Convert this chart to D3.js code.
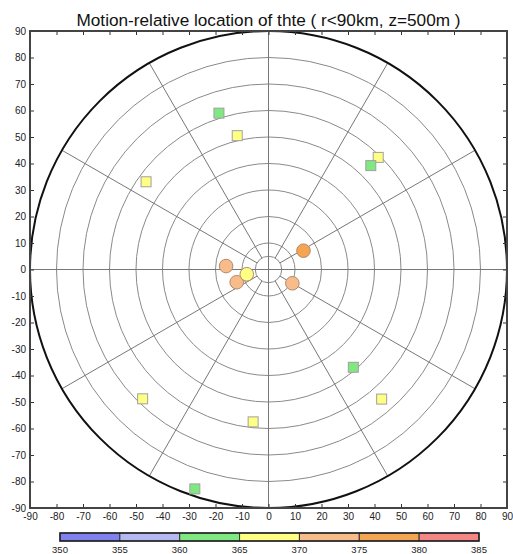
<!DOCTYPE html>
<html><head><meta charset="utf-8">
<script src="https://cdn.jsdelivr.net/npm/d3@7"></script>
<style>body{margin:0;background:#fff}svg{display:block}</style>
</head><body>
<svg id="c" width="513" height="554"></svg>
<script>
// ---- data ----
const title = "Motion-relative location of thte ( r<90km, z=500m )";
const axisTicks = d3.range(-90, 91, 10);
const ringRadii = [5, 10, 20, 30, 40, 50, 60, 70, 80];
const spokeAngles = d3.range(0, 360, 30);
const colorBreaks = [350, 355, 360, 365, 370, 375, 380, 385];
const colorFills = ["#8080ee", "#b5b9f2", "#80e880", "#ffff84", "#f8bb8a", "#f5a452", "#f48686"];
// squares
const sqX = [-18.7, -11.8, -46.2, 41.4, 38.6, 32.0, 42.7, -47.5, -5.8, -27.8];
const sqY = [59.0, 50.5, 33.1, 42.3, 39.2, -36.9, -48.9, -48.8, -57.5, -82.8];
const sqV = [362, 367, 367, 367, 362, 362, 367, 367, 367, 362];
// circles
const ciX = [13.2, -16.0, 9.0, -12.0, -8.2];
const ciY = [7.1, 1.3, -5.2, -4.8, -1.8];
const ciV = [377, 372, 372, 372, 367];

// ---- layout ----
const svg = d3.select("#c");
const L = 30, R = 507, T = 31, B = 508;
const x = d3.scaleLinear().domain([-90, 90]).range([L, R]);
const y = d3.scaleLinear().domain([-90, 90]).range([B, T]);
const rs = d3.scaleLinear().domain([0, 90]).range([0, (R - L) / 2]);
const cx = x(0), cy = y(0);
const color = d3.scaleThreshold().domain(colorBreaks.slice(1, -1)).range(colorFills);
const font = "'Liberation Sans', Arial, sans-serif";

svg.append("text").attr("x", (L + R) / 2).attr("y", 26).attr("text-anchor", "middle")
  .attr("font-family", font).attr("font-size", 17.2).attr("fill", "#111").text(title);

const g = svg.append("g");
// rings
g.selectAll("circle.ring").data(ringRadii).join("circle")
  .attr("cx", cx).attr("cy", cy).attr("r", d => rs(d))
  .attr("fill", "none").attr("stroke", "#8a8a8a").attr("stroke-width", 1);
// spokes
g.selectAll("line.spoke").data(spokeAngles.filter(a => a % 90 !== 0)).join("line")
  .attr("x1", a => cx + rs(5) * Math.cos(a * Math.PI / 180))
  .attr("y1", a => cy - rs(5) * Math.sin(a * Math.PI / 180))
  .attr("x2", a => cx + rs(90) * Math.cos(a * Math.PI / 180))
  .attr("y2", a => cy - rs(90) * Math.sin(a * Math.PI / 180))
  .attr("stroke", "#777").attr("stroke-width", 1);
// cross
g.append("line").attr("x1", L).attr("x2", R).attr("y1", cy).attr("y2", cy).attr("stroke", "#777");
g.append("line").attr("x1", cx).attr("x2", cx).attr("y1", T).attr("y2", B).attr("stroke", "#777");
// outer circle
g.append("circle").attr("cx", cx).attr("cy", cy).attr("r", rs(90))
  .attr("fill", "none").attr("stroke", "#111").attr("stroke-width", 2);

// axes
const fmt = d => String(d);
const axB = d3.axisBottom(x).tickValues(axisTicks).tickSize(-4).tickPadding(5).tickFormat(fmt);
const axL = d3.axisLeft(y).tickValues(axisTicks).tickSize(-4).tickPadding(4).tickFormat(fmt);
const axT = d3.axisTop(x).tickValues(axisTicks).tickSize(-4).tickFormat("");
const axR = d3.axisRight(y).tickValues(axisTicks).tickSize(-4).tickFormat("");
[[axB, `translate(0,${B})`], [axL, `translate(${L},0)`], [axT, `translate(0,${T})`], [axR, `translate(${R},0)`]]
  .forEach(([ax, tr]) => {
    const a = svg.append("g").attr("transform", tr).call(ax);
    a.select(".domain").remove();
    a.selectAll("line").attr("stroke", "#333");
    a.selectAll("text").attr("font-family", font).attr("font-size", 10).attr("fill", "#222");
  });
svg.append("rect").attr("x", L).attr("y", T).attr("width", R - L).attr("height", B - T)
  .attr("fill", "none").attr("stroke", "#444").attr("stroke-width", 2);

// markers: squares
const sqData = sqX.map((d, i) => ({x: d, y: sqY[i], v: sqV[i]}));
svg.append("g").selectAll("rect").data(sqData).join("rect")
  .attr("x", d => x(d.x) - 5).attr("y", d => y(d.y) - 5).attr("width", 10).attr("height", 10)
  .attr("fill", d => color(d.v)).attr("stroke", "#a0a0a0").attr("stroke-width", 1);
// circles
const ciData = ciX.map((d, i) => ({x: d, y: ciY[i], v: ciV[i]}));
svg.append("g").selectAll("circle").data(ciData).join("circle")
  .attr("cx", d => x(d.x)).attr("cy", d => y(d.y)).attr("r", 6.8)
  .attr("fill", d => color(d.v)).attr("stroke", "#b08a6a").attr("stroke-width", 1);

// colorbar
const cbx = d3.scaleLinear().domain([350, 385]).range([60, 479]);
const cb = svg.append("g");
cb.selectAll("rect").data(colorFills).join("rect")
  .attr("x", (d, i) => cbx(colorBreaks[i])).attr("y", 533)
  .attr("width", (d, i) => cbx(colorBreaks[i + 1]) - cbx(colorBreaks[i])).attr("height", 8)
  .attr("fill", d => d).attr("stroke", "#333").attr("stroke-width", 1);
cb.append("rect").attr("x", cbx(350)).attr("y", 533).attr("width", cbx(385) - cbx(350)).attr("height", 8)
  .attr("fill", "none").attr("stroke", "#222").attr("stroke-width", 1.5);
cb.selectAll("text").data(colorBreaks).join("text")
  .attr("x", d => cbx(d)).attr("y", 553).attr("text-anchor", "middle")
  .attr("font-family", font).attr("font-size", 9.5).attr("fill", "#222").text(d => d);
</script>
</body></html>
